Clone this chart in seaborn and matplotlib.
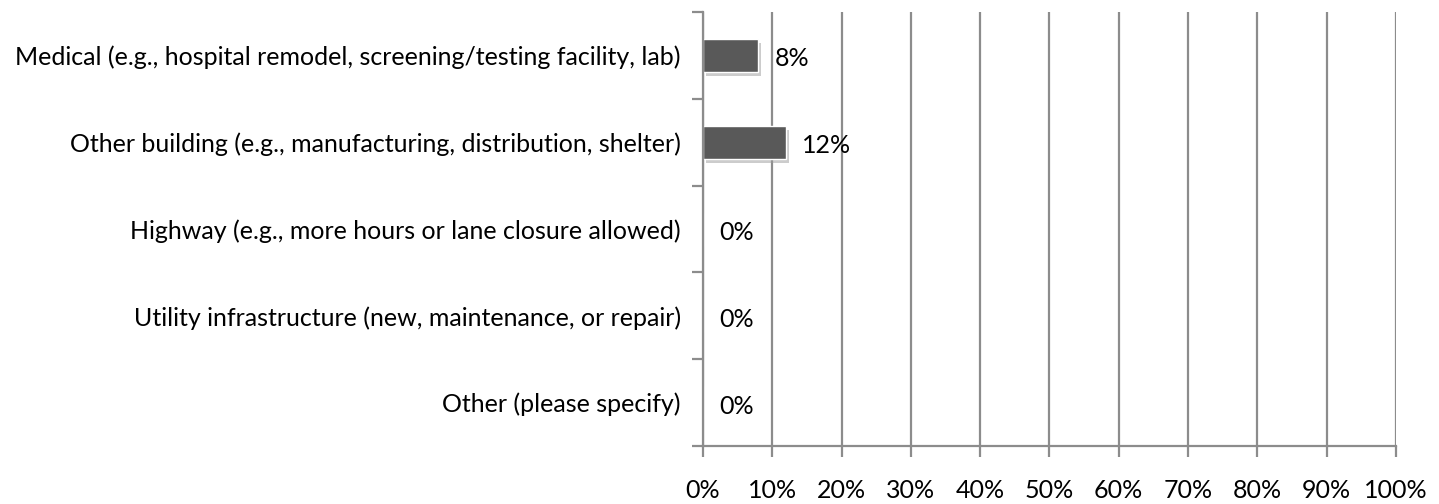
import matplotlib
matplotlib.use("Agg")
import matplotlib.pyplot as plt
import matplotlib.patheffects as pe
from matplotlib.ticker import FixedLocator
import seaborn as sns
import pandas as pd

categories = [
    "Medical (e.g., hospital remodel, screening/testing facility, lab)",
    "Other building (e.g., manufacturing, distribution, shelter)",
    "Highway (e.g., more hours or lane closure allowed)",
    "Utility infrastructure (new, maintenance, or repair)",
    "Other (please specify)",
]
values = [8, 12, 0, 0, 0]
x_ticks = list(range(0, 101, 10))
x_tick_labels = [f"{t}%" for t in x_ticks]

df = pd.DataFrame({"category": categories, "value": values})

sns.set_style("white")
plt.rcParams["font.family"] = ["Lato", "DejaVu Sans"]

fig = plt.figure(figsize=(14.39, 5.04), dpi=100)
ax = fig.add_axes([0.4885, 0.115, 0.4815, 0.861])

sns.barplot(data=df, x="value", y="category", orient="h", color="#595959",
            saturation=1, width=0.38, ax=ax)
for bar in ax.patches:
    bar.set_edgecolor("white")
    bar.set_linewidth(1.0)
    bar.set_path_effects([pe.SimplePatchShadow(offset=(2, -3), shadow_rgbFace="#9a9a9a", alpha=0.5),
                          pe.Normal()])

grid_color = "#8c8c8c"
fs = 18
ax.set_xlim(0, 100)
ax.set_ylim(len(categories) - 0.5, -0.5)
ax.set_xticks(x_ticks)
ax.set_xticklabels(x_tick_labels, fontsize=fs, color="black")
ax.xaxis.grid(True, color=grid_color, linewidth=1.6)
ax.set_axisbelow(True)

# category labels without tick marks, tick marks between categories
ax.set_yticks(range(len(categories)))
ax.set_yticklabels(categories, fontsize=fs, color="black")
ax.tick_params(axis="y", which="major", length=0, pad=16)
ax.yaxis.set_minor_locator(FixedLocator([i - 0.5 for i in range(len(categories) + 1)]))
ax.tick_params(axis="y", which="minor", length=8, width=1.6, color=grid_color, left=True)
ax.tick_params(axis="x", length=8, width=1.6, color=grid_color, pad=16, bottom=True)

for s in ["top", "right"]:
    ax.spines[s].set_visible(False)
for s in ["left", "bottom"]:
    ax.spines[s].set_color(grid_color)
    ax.spines[s].set_linewidth(1.6)

for i, v in enumerate(values):
    ax.text(v + 2.3, i + 0.04, f"{v}%", va="center", ha="left", fontsize=fs, color="black")

ax.set_xlabel("")
ax.set_ylabel("")
fig.savefig("out.png", dpi=100)
